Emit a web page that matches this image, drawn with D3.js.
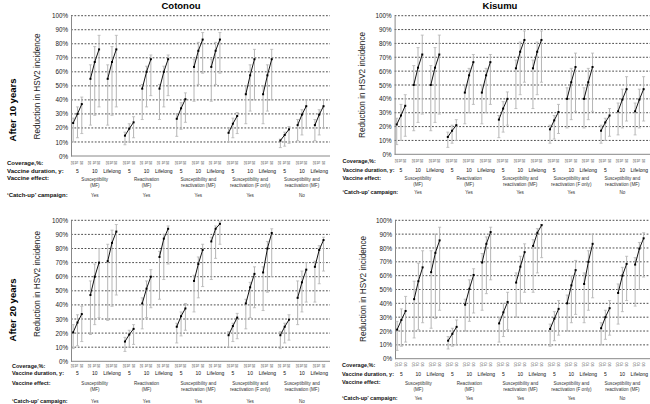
<!DOCTYPE html>
<html><head><meta charset="utf-8">
<script src="https://cdn.jsdelivr.net/npm/d3@7"></script>
<style>
body{margin:0;background:#fff;}
svg{font-family:"Liberation Sans",Arial,sans-serif;}
</style></head>
<body><svg id="c" width="650" height="404"></svg>
<script>
// ---------- data ----------
const coverage = ["50","70","90"];
const durations = ["5","10","Lifelong"];
const effects = [["Susceptibility","(MF)"],["Reactivation","(MF)"],["Susceptibility and","reactivation (MF)"],["Susceptibility and","reactivation (F only)"],["Susceptibility and","reactivation (MF)"]];
const catchup = ["Yes","Yes","Yes","Yes","No"];
const yTicks = [0,10,20,30,40,50,60,70,80,90,100];
const rowLabels = ["Coverage,%:","Vaccine duration, y:","Vaccine effect:","\u2018Catch-up\u2019 campaign:"];

const cot10Mid = [[23.5,30,37],[55,67,76],[55,67,76],[14.5,19.5,24],[48,60,69],[48,60,69],[26.5,34,40.5],[63.5,75,83],[63.5,75,83],[16.5,23,28.5],[44,57.5,69],[44,57.5,69],[11,15,19],[22,29.5,35.5],[22,29.5,35.5]];
const cot10Lo  = [[10,13,16],[22,29,35],[22,29,35],[8,10,13],[26,35,43],[26,35,43],[14,19,24],[39,51,59],[39,51,59],[10,13,16],[23,32,40],[23,32,40],[6,7,9],[11,15,20],[11,15,20]];
const cot10Hi  = [[27,35,42],[65,78,86],[65,78,86],[17,23,28],[51,64,72],[51,64,72],[30,38,45],[69,81,88],[69,81,88],[20,27,31],[50,65,76],[50,65,76],[12,17,21],[26,33,40],[26,33,40]];

const kis10Mid = [[21.5,28,35],[50,62.5,72],[50,62.5,72],[12.5,17,21],[44.5,57,66.5],[44.5,57,66.5],[25,33,40],[62,74,82.5],[62,74,82.5],[18,24.5,30.5],[40,52,63],[40,52,63],[17,23,28],[31,39.5,47],[31,39.5,47]];
const kis10Lo  = [[7,10,13],[17,23,29],[17,23,29],[5,8,10],[22,30,36],[22,30,36],[12,16,21],[33,43,52],[33,43,52],[8,11,15],[19,25,31],[19,25,31],[8,10,13],[14,19,24],[14,19,24]];
const kis10Hi  = [[26,36,43],[64,77,86],[64,77,86],[16,21,25],[50,62,72],[50,62,72],[28,38,45],[68,81,89],[68,81,89],[21,28,36],[48,62,73],[48,62,73],[21,26,33],[37,47,56],[37,47,56]];

const cot20Mid = [[20.5,27.5,33.5],[47,60,70],[71,84,92],[14,19,23],[41,51.5,60],[74,87,94],[24.5,32,37.5],[57,69,79],[85,94,97.5],[18.5,25,31],[41,52.5,62],[63,80,91],[18.5,24.5,29.5],[45,56,65],[67,79,86]];
const cot20Lo  = [[9,11,14],[19,26,31],[29,39,47],[7,10,12],[23,31,38],[44,58,69],[13,18,22],[35,45,53],[58,73,83],[10,14,16],[23,31,38],[36,49,60],[9,13,15],[26,35,42],[42,55,64]];
const cot20Hi  = [[26,33,39],[57,69,80],[83,93,97],[17,22,26],[45,57,65],[78,90,96],[27,35,41],[61,74,83],[88,96,99],[21,27,34],[44,56,67],[67,85,94],[21,27,33],[57,64,70],[71,82,88]];

const kis20Mid = [[21,28,34.5],[43,56,66],[62.5,76.5,85.5],[13,18,23],[39,50.5,60.5],[69.5,83,91.5],[25.5,33.5,41],[55,66.5,77],[81.5,91,96.5],[21.5,29,36],[40,53,64],[54,70,83],[22,30,36.5],[47.5,60,68.5],[68,79.5,87]];
const kis20Lo  = [[6,9,12],[15,21,26],[22,29,35],[7,9,10],[20,27,33],[35,47,57],[12,16,21],[30,40,48],[48,62,73],[9,13,17],[20,26,32],[26,35,44],[10,14,17],[25,34,42],[38,50,59]];
const kis20Hi  = [[27,36,45],[56,69,78],[78,90,95],[16,22,28],[43,57,65],[76,88,95],[30,40,48],[62,74,83],[86,94,97],[25,34,42],[46,60,71],[62,78,90],[26,35,42],[54,66,74],[73,84,91]];

// ---------- layout ----------
const panels = [
 {mid:cot10Mid, lo:cot10Lo, hi:cot10Hi, x0:71, x1:330, yTop:15.7, y0:156,
  rows:{cov:165, dur:173, eff1:181, eff2:186.5, ct:197}, labX:7, labFs:6, ylab:[37,86.5], tickX:68},
 {mid:kis10Mid, lo:kis10Lo, hi:kis10Hi, x0:394.6, x1:650, yTop:15.7, y0:154.3,
  rows:{cov:163, dur:171.7, eff1:180.3, eff2:186, ct:194.3}, labX:342.5, labFs:5.5, ylab:[362,85], tickX:391},
 {mid:cot20Mid, lo:cot20Lo, hi:cot20Hi, x0:71, x1:330, yTop:220.3, y0:361.3,
  rows:{cov:368, dur:374.7, eff1:385.3, eff2:391.3, ct:403}, labX:12, labFs:5.5, ylab:[37,284], tickX:68},
 {mid:kis20Mid, lo:kis20Lo, hi:kis20Hi, x0:395, x1:650, yTop:220.3, y0:358.7,
  rows:{cov:366.7, dur:375.7, eff1:385, eff2:391, ct:400}, labX:342, labFs:5.5, ylab:[363,289], tickX:391}
];

const svg = d3.select("#c");

svg.append("text").attr("x",181).attr("y",9).attr("text-anchor","middle")
  .attr("font-weight","bold").attr("font-size",9.5).text("Cotonou");
svg.append("text").attr("x",500).attr("y",9).attr("text-anchor","middle")
  .attr("font-weight","bold").attr("font-size",9.5).text("Kisumu");
[["After 10 years",12,110],["After 20 years",12,310]].forEach(([t,x,y])=>{
  svg.append("text").attr("transform",`translate(${x},${y}) rotate(-90)`)
    .attr("text-anchor","middle").attr("dominant-baseline","central")
    .attr("font-weight","bold").attr("font-size",9.5).text(t);
});

panels.forEach(p=>{
  const g = svg.append("g");
  const x = d3.scaleLinear().domain([0,60]).range([p.x0,p.x1]);
  const y = d3.scaleLinear().domain([0,100]).range([p.y0,p.yTop]);
  const slot = (gi,j)=> x(gi*4 + j + 0.5);

  // gridlines
  g.selectAll(".grid").data(yTicks.filter(d=>d>0)).join("line")
    .attr("x1",p.x0).attr("x2",p.x1).attr("y1",d=>y(d)).attr("y2",d=>y(d))
    .attr("stroke","#222").attr("stroke-width",0.8).attr("stroke-dasharray","1.8,1.6");

  // y axis
  const ax = g.append("g").attr("transform",`translate(${p.x0},0)`)
    .call(d3.axisLeft(y).tickValues(yTicks).tickFormat(d=>d+"%").tickSize(0).tickPadding(3));
  ax.select(".domain").attr("stroke","#888").attr("stroke-width",1);
  ax.selectAll("text").attr("font-size",6.3).attr("fill","#222")
    .attr("font-family","\"Liberation Sans\",Arial,sans-serif");
  g.append("line").attr("x1",p.x0).attr("x2",p.x1).attr("y1",y(0)).attr("y2",y(0))
    .attr("stroke","#888").attr("stroke-width",1);

  g.append("text").attr("transform",`translate(${p.ylab[0]},${p.ylab[1]}) rotate(-90)`)
    .attr("text-anchor","middle").attr("dominant-baseline","central")
    .attr("font-size",8.2).attr("fill","#222").text("Reduction in HSV2 incidence");

  p.mid.forEach((grp,gi)=>{
    grp.forEach((v,j)=>{
      const cx = slot(gi,j);
      const lo = p.lo[gi][j], hi = p.hi[gi][j];
      g.append("line").attr("x1",cx).attr("x2",cx).attr("y1",y(lo)).attr("y2",y(hi))
        .attr("stroke","#b5b5b5").attr("stroke-width",1);
      [lo,hi].forEach(b=>g.append("line").attr("x1",cx-1.5).attr("x2",cx+1.5)
        .attr("y1",y(b)).attr("y2",y(b)).attr("stroke","#b5b5b5").attr("stroke-width",0.8));
    });
    const line = d3.line().x((d,j)=>slot(gi,j)).y(d=>y(d));
    g.append("path").attr("d",line(grp)).attr("fill","none").attr("stroke","#111").attr("stroke-width",1);
    grp.forEach((v,j)=>{
      g.append("rect").attr("x",slot(gi,j)-1).attr("y",y(v)-1).attr("width",2).attr("height",2).attr("fill","#000");
    });
    coverage.forEach((c,j)=>{
      g.append("text").attr("transform",`translate(${slot(gi,j)},${p.rows.cov-2.3}) rotate(-90)`)
        .attr("text-anchor","middle").attr("dominant-baseline","central")
        .attr("font-size",3.6).attr("fill","#333").text(c);
    });
    g.append("text").attr("x",slot(gi,1)).attr("y",p.rows.dur).attr("text-anchor","middle")
      .attr("font-size",5).attr("fill","#111").text(durations[gi%3]);
  });

  effects.forEach((e,k)=>{
    const cx = slot(3*k+1,1);
    g.append("text").attr("x",cx).attr("y",p.rows.eff1).attr("text-anchor","middle")
      .attr("font-size",4.6).attr("fill","#333").text(e[0]);
    g.append("text").attr("x",cx).attr("y",p.rows.eff2).attr("text-anchor","middle")
      .attr("font-size",4.6).attr("fill","#333").text(e[1]);
    g.append("text").attr("x",cx).attr("y",p.rows.ct).attr("text-anchor","middle")
      .attr("font-size",4.6).attr("fill","#333").text(catchup[k]);
  });

  const ry = [p.rows.cov, p.rows.dur, p.rows.eff1-0.8, p.rows.ct];
  rowLabels.forEach((t,i)=>{
    g.append("text").attr("x",p.labX).attr("y",ry[i]).attr("font-size",p.labFs)
      .attr("font-weight","bold").attr("fill","#111").text(t);
  });
});
</script></body></html>
